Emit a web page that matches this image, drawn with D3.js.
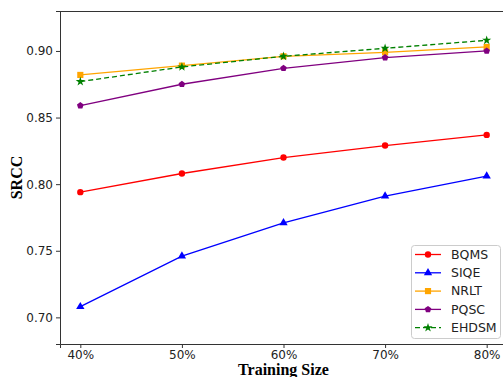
<!DOCTYPE html>
<html>
<head>
<meta charset="utf-8">
<script src="https://cdn.jsdelivr.net/npm/d3@7"></script>
<style>
  body { margin: 0; background: #fff; }
  svg { display: block; }
  .tick text { font-family: "DejaVu Sans", sans-serif; font-size: 12px; fill: #222; }
</style>
</head>
<body>
<div id="chart"></div>
<script>
// Training sizes (percent)
const sizes = [40, 50, 60, 70, 80];

// SRCC values
const bqms = [0.794, 0.808, 0.820, 0.829, 0.837];
const siqe = [0.708, 0.746, 0.771, 0.791, 0.806];
const nrlt = [0.882, 0.889, 0.896, 0.899, 0.903];
const pqsc = [0.859, 0.875, 0.887, 0.895, 0.900];
const ehdsm = [0.877, 0.888, 0.896, 0.902, 0.908];

const yTicks = [0.70, 0.75, 0.80, 0.85, 0.90];

const series = [
  { name: "BQMS", values: bqms, color: "#ff0000", marker: "circle", dash: null },
  { name: "SIQE", values: siqe, color: "#0000ff", marker: "triangle", dash: null },
  { name: "NRLT", values: nrlt, color: "#ffa500", marker: "square", dash: null },
  { name: "PQSC", values: pqsc, color: "#800080", marker: "pentagon", dash: null },
  { name: "EHDSM", values: ehdsm, color: "#008000", marker: "star", dash: "5,3" }
];

const width = 503;
const height = 377;
const margin = { top: 11, right: -4, bottom: 33, left: 60 };

const svg = d3.select("#chart")
  .append("svg")
  .attr("width", width)
  .attr("height", height);

const x = d3.scaleLinear()
  .domain([38, 82])
  .range([margin.left, width - margin.right]);

const y = d3.scaleLinear()
  .domain([0.68, 0.93])
  .range([height - margin.bottom, margin.top]);

// axes
svg.append("g")
  .attr("transform", `translate(0,${height - margin.bottom})`)
  .call(d3.axisBottom(x).tickValues(sizes).tickFormat(d => d + "%").tickSize(4).tickPadding(2))
  .call(g => g.select(".domain").attr("stroke", "#333"))
  .call(g => g.selectAll(".tick line").attr("stroke", "#333"));

svg.append("g")
  .attr("transform", `translate(${margin.left},0)`)
  .call(d3.axisLeft(y).tickValues(yTicks).tickFormat(d3.format(".2f")).tickSize(4).tickPadding(3))
  .call(g => g.select(".domain").attr("stroke", "#333"))
  .call(g => g.selectAll(".tick line").attr("stroke", "#333"));

// top spine
svg.append("line")
  .attr("x1", margin.left).attr("x2", width)
  .attr("y1", margin.top + 0.5).attr("y2", margin.top + 0.5)
  .attr("stroke", "#333");

// marker shapes
function markerPath(type) {
  if (type === "circle") return d3.symbol(d3.symbolCircle, 32)();
  if (type === "triangle") return d3.symbol(d3.symbolTriangle, 30)();
  if (type === "square") return d3.symbol(d3.symbolSquare, 38)();
  if (type === "star") return d3.symbol(d3.symbolStar, 26)();
  // pentagon
  const r = 3.5;
  const pts = d3.range(5).map(i => {
    const a = -Math.PI / 2 + i * 2 * Math.PI / 5;
    return [r * Math.cos(a), r * Math.sin(a)];
  });
  return "M" + pts.map(p => p.join(",")).join("L") + "Z";
}

const line = d3.line()
  .x((d, i) => x(sizes[i]))
  .y(d => y(d));

series.forEach(s => {
  svg.append("path")
    .datum(s.values)
    .attr("d", line)
    .attr("fill", "none")
    .attr("stroke", s.color)
    .attr("stroke-width", 1.3)
    .attr("stroke-dasharray", s.dash);

  svg.selectAll(null)
    .data(s.values)
    .enter()
    .append("path")
    .attr("d", markerPath(s.marker))
    .attr("transform", (d, i) => `translate(${x(sizes[i])},${y(d)})`)
    .attr("fill", s.color);
});

// axis titles
svg.append("text")
  .attr("x", (margin.left + width - margin.right) / 2)
  .attr("y", 374.5)
  .attr("text-anchor", "middle")
  .style("font-family", "'Liberation Serif', 'Times New Roman', serif")
  .style("font-weight", "bold")
  .style("font-size", "16px")
  .text("Training Size");

svg.append("text")
  .attr("transform", `translate(22,${(margin.top + height - margin.bottom) / 2}) rotate(-90)`)
  .attr("text-anchor", "middle")
  .style("font-family", "'Liberation Serif', 'Times New Roman', serif")
  .style("font-weight", "bold")
  .style("font-size", "16px")
  .text("SRCC");

// legend
const legend = svg.append("g").attr("transform", "translate(411,245)");
legend.append("rect")
  .attr("x", 0.5).attr("y", 0.5)
  .attr("width", 89).attr("height", 93)
  .attr("rx", 3)
  .attr("fill", "#fff")
  .attr("fill-opacity", 0.8)
  .attr("stroke", "#ccc");

series.forEach((s, i) => {
  const ly = 9.5 + i * 18.3;
  legend.append("line")
    .attr("x1", 4).attr("x2", 30)
    .attr("y1", ly).attr("y2", ly)
    .attr("stroke", s.color)
    .attr("stroke-width", 1.3)
    .attr("stroke-dasharray", s.dash);
  legend.append("path")
    .attr("d", markerPath(s.marker))
    .attr("transform", `translate(17,${ly})`)
    .attr("fill", s.color);
  legend.append("text")
    .attr("x", 40)
    .attr("y", ly + 4.3)
    .style("font-family", "'DejaVu Sans', sans-serif")
    .style("font-size", "12.5px")
    .attr("fill", "#222")
    .text(s.name);
});
</script>
</body>
</html>
